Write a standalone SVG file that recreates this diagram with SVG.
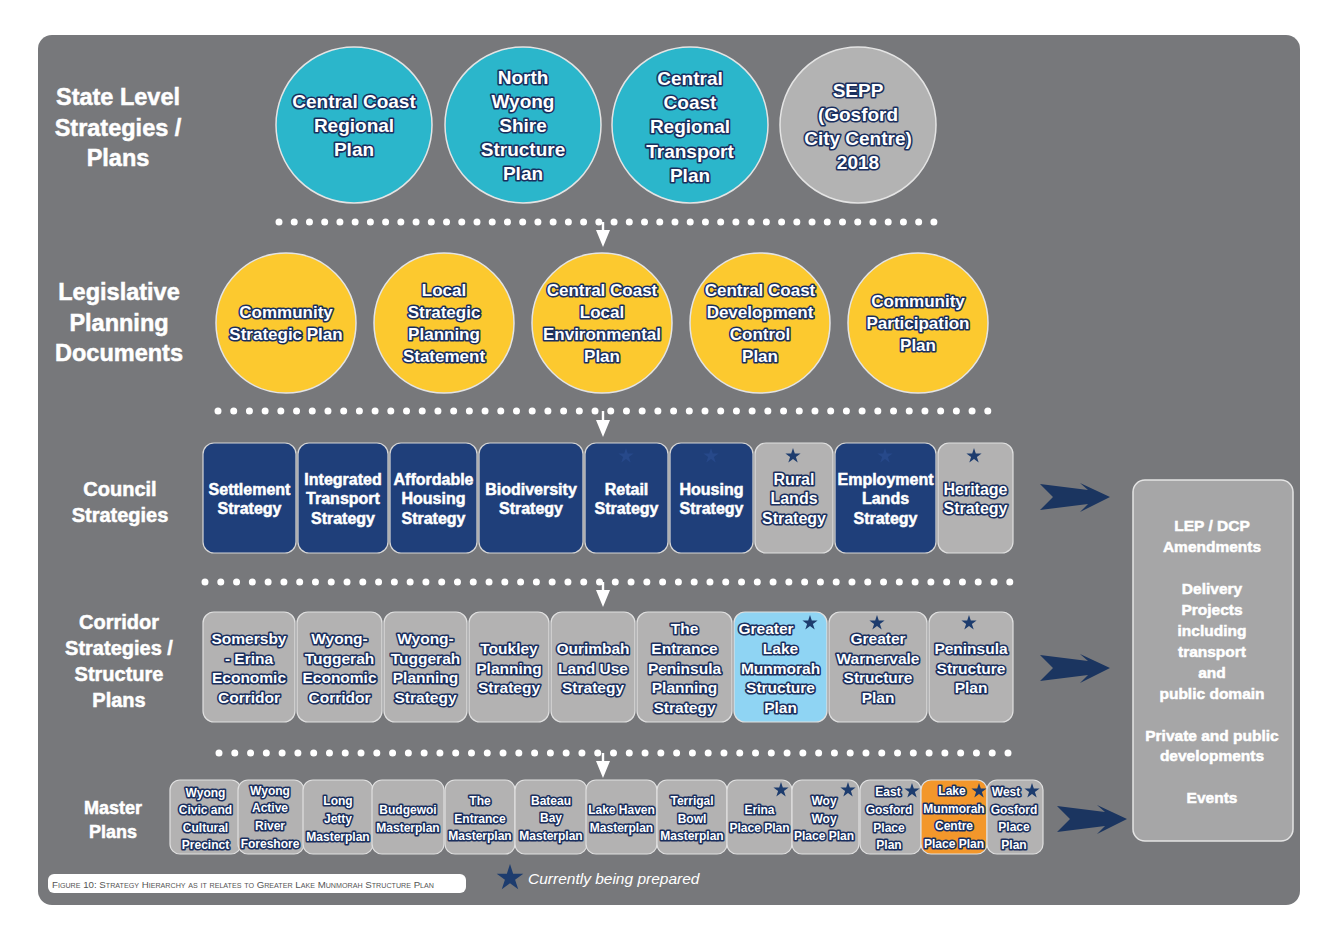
<svg xmlns="http://www.w3.org/2000/svg" xmlns:xlink="http://www.w3.org/1999/xlink" width="1339" height="947" viewBox="0 0 1339 947">
<style>
.t{font-family:"Liberation Sans",Arial,sans-serif;font-weight:bold;text-anchor:middle}
.ol{fill:#fff;stroke:#1a2f5e;stroke-width:3.2;paint-order:stroke fill;stroke-linejoin:round}
.wh{fill:#fff;stroke:#fff;stroke-width:0.5}
.lab{font-size:23.5px}
.c1{font-size:19px}
.c2{font-size:17px}
.r3{font-size:16px}
.r4{font-size:15.5px}
.r5{font-size:12px}
.rb{font-size:15.5px}
.teal{fill:#2bb6cb;stroke:#e4e4e4;stroke-width:1.5}
.yel{fill:#fcc92f;stroke:#e4e4e4;stroke-width:1.5}
.gcir{fill:#b3b3b3;stroke:#e4e4e4;stroke-width:1.5}
.bb{fill:#1f3f7a;stroke:#d6d6d6;stroke-width:1.2}
.gb{fill:#b3b2b2;stroke:#e0e0e0;stroke-width:1.2}
.lb{fill:#8fd4f3;stroke:#e0e0e0;stroke-width:1.2}
.ob{fill:#f3972b;stroke:#e0e0e0;stroke-width:1.2}
.dots{stroke:#fff;stroke-width:7;stroke-linecap:round;fill:none}
.star{fill:#1d3c6e}
.fstar{fill:#27498a}
.down{fill:#fff}
.big{fill:#1b3560}
</style>
<defs>
<path id="st" d="M0,-8 L1.8,-2.47 L7.61,-2.47 L2.91,0.95 L4.7,6.47 L0,3.06 L-4.7,6.47 L-2.91,0.95 L-7.61,-2.47 L-1.8,-2.47 Z"/>
<path id="ar" d="M0,-13 L48,-7 L40,-14 L70,0 L40,15 L48,7 L0,13 L13,0 Z"/>
</defs>
<rect x="0" y="0" width="1339" height="947" fill="#fff"/>
<rect id="panel" x="38" y="35" width="1262" height="870" rx="14" fill="#77787b"/>

<g id="row-labels" class="t wh">
<text class="lab" x="118" y="104.5">State Level</text>
<text class="lab" x="118" y="135.5">Strategies /</text>
<text class="lab" x="118" y="165.5">Plans</text>
<text class="lab" x="119" y="299.5">Legislative</text>
<text class="lab" x="119" y="330.5">Planning</text>
<text class="lab" x="119" y="360.5">Documents</text>
<text x="120" y="496" font-size="20">Council</text>
<text x="120" y="522" font-size="20">Strategies</text>
<text x="119" y="629" font-size="20">Corridor</text>
<text x="119" y="655" font-size="20">Strategies /</text>
<text x="119" y="681" font-size="20">Structure</text>
<text x="119" y="707" font-size="20">Plans</text>
<text x="113" y="813.5" font-size="18">Master</text>
<text x="113" y="837.5" font-size="18">Plans</text>
</g>

<!-- Row 1 -->
<g id="ccrp"><circle class="teal" cx="354" cy="125" r="78"/>
<text class="t ol c1"><tspan x="354" y="108">Central Coast</tspan><tspan x="354" y="132">Regional</tspan><tspan x="354" y="156">Plan</tspan></text></g>
<g id="nwssp"><circle class="teal" cx="523" cy="125" r="78"/>
<text class="t ol c1"><tspan x="523" y="84">North</tspan><tspan x="523" y="108">Wyong</tspan><tspan x="523" y="132">Shire</tspan><tspan x="523" y="156">Structure</tspan><tspan x="523" y="180">Plan</tspan></text></g>
<g id="ccrtp"><circle class="teal" cx="690" cy="125" r="78"/>
<text class="t ol c1"><tspan x="690" y="85">Central</tspan><tspan x="690" y="109">Coast</tspan><tspan x="690" y="133">Regional</tspan><tspan x="690" y="158">Transport</tspan><tspan x="690" y="182">Plan</tspan></text></g>
<g id="sepp"><circle class="gcir" cx="858" cy="125" r="78"/>
<text class="t ol c1"><tspan x="858" y="97">SEPP</tspan><tspan x="858" y="121">(Gosford</tspan><tspan x="858" y="145">City Centre)</tspan><tspan x="858" y="169">2018</tspan></text></g>

<!-- Row 2 -->
<g id="csp"><circle class="yel" cx="286" cy="323" r="70"/>
<text class="t ol c2"><tspan x="286" y="318">Community</tspan><tspan x="286" y="340">Strategic Plan</tspan></text></g>
<g id="lsps"><circle class="yel" cx="444" cy="323" r="70"/>
<text class="t ol c2"><tspan x="444" y="296">Local</tspan><tspan x="444" y="318">Strategic</tspan><tspan x="444" y="340">Planning</tspan><tspan x="444" y="362">Statement</tspan></text></g>
<g id="lep"><circle class="yel" cx="602" cy="323" r="70"/>
<text class="t ol c2"><tspan x="602" y="296">Central Coast</tspan><tspan x="602" y="318">Local</tspan><tspan x="602" y="340">Environmental</tspan><tspan x="602" y="362">Plan</tspan></text></g>
<g id="dcp"><circle class="yel" cx="760" cy="323" r="70"/>
<text class="t ol c2"><tspan x="760" y="296">Central Coast</tspan><tspan x="760" y="318">Development</tspan><tspan x="760" y="340">Control</tspan><tspan x="760" y="362">Plan</tspan></text></g>
<g id="cpp"><circle class="yel" cx="918" cy="323" r="70"/>
<text class="t ol c2"><tspan x="918" y="307">Community</tspan><tspan x="918" y="329">Participation</tspan><tspan x="918" y="351">Plan</tspan></text></g>

<!-- Row 3 -->
<g id="settlement"><rect class="bb" x="203" y="443" width="93" height="110" rx="11"/>
<text class="t wh r3"><tspan x="249.5" y="495">Settlement</tspan><tspan x="249.5" y="514">Strategy</tspan></text></g>
<g id="its"><rect class="bb" x="298" y="443" width="90" height="110" rx="11"/>
<text class="t wh r3"><tspan x="343" y="485">Integrated</tspan><tspan x="343" y="504">Transport</tspan><tspan x="343" y="524">Strategy</tspan></text></g>
<g id="ahs"><rect class="bb" x="390" y="443" width="87" height="110" rx="11"/>
<text class="t wh r3"><tspan x="433.5" y="485">Affordable</tspan><tspan x="433.5" y="504">Housing</tspan><tspan x="433.5" y="524">Strategy</tspan></text></g>
<g id="bio"><rect class="bb" x="479" y="443" width="104" height="110" rx="11"/>
<text class="t wh r3"><tspan x="531" y="495">Biodiversity</tspan><tspan x="531" y="514">Strategy</tspan></text></g>
<g id="retail"><rect class="bb" x="585" y="443" width="83" height="110" rx="11"/>
<use href="#st" class="fstar" x="626" y="456"/>
<text class="t wh r3"><tspan x="626.5" y="495">Retail</tspan><tspan x="626.5" y="514">Strategy</tspan></text></g>
<g id="housing"><rect class="bb" x="670" y="443" width="83" height="110" rx="11"/>
<use href="#st" class="fstar" x="711" y="456"/>
<text class="t wh r3"><tspan x="711.5" y="495">Housing</tspan><tspan x="711.5" y="514">Strategy</tspan></text></g>
<g id="rural"><rect class="gb" x="755" y="443" width="78" height="110" rx="11"/>
<use href="#st" class="star" x="793" y="456"/>
<text class="t ol r3"><tspan x="794" y="485">Rural</tspan><tspan x="794" y="504">Lands</tspan><tspan x="794" y="524">Strategy</tspan></text></g>
<g id="employment"><rect class="bb" x="835" y="443" width="101" height="110" rx="11"/>
<use href="#st" class="fstar" x="885" y="456"/>
<text class="t wh r3"><tspan x="885.5" y="485">Employment</tspan><tspan x="885.5" y="504">Lands</tspan><tspan x="885.5" y="524">Strategy</tspan></text></g>
<g id="heritage"><rect class="gb" x="938" y="443" width="75" height="110" rx="11"/>
<use href="#st" class="star" x="974" y="456"/>
<text class="t ol r3"><tspan x="975.5" y="495">Heritage</tspan><tspan x="975.5" y="514">Strategy</tspan></text></g>

<!-- Row 4 -->
<g id="somersby"><rect class="gb" x="203" y="612" width="92" height="110" rx="11"/>
<text class="t ol r4"><tspan x="249" y="644">Somersby</tspan><tspan x="249" y="664">- Erina</tspan><tspan x="249" y="683">Economic</tspan><tspan x="249" y="703">Corridor</tspan></text></g>
<g id="wtec"><rect class="gb" x="297" y="612" width="85" height="110" rx="11"/>
<text class="t ol r4"><tspan x="339.5" y="644">Wyong-</tspan><tspan x="339.5" y="664">Tuggerah</tspan><tspan x="339.5" y="683">Economic</tspan><tspan x="339.5" y="703">Corridor</tspan></text></g>
<g id="wtps"><rect class="gb" x="384" y="612" width="83" height="110" rx="11"/>
<text class="t ol r4"><tspan x="425.5" y="644">Wyong-</tspan><tspan x="425.5" y="664">Tuggerah</tspan><tspan x="425.5" y="683">Planning</tspan><tspan x="425.5" y="703">Strategy</tspan></text></g>
<g id="toukley"><rect class="gb" x="469" y="612" width="80" height="110" rx="11"/>
<text class="t ol r4"><tspan x="509" y="654">Toukley</tspan><tspan x="509" y="674">Planning</tspan><tspan x="509" y="693">Strategy</tspan></text></g>
<g id="ourimbah"><rect class="gb" x="551" y="612" width="84" height="110" rx="11"/>
<text class="t ol r4"><tspan x="593" y="654">Ourimbah</tspan><tspan x="593" y="674">Land Use</tspan><tspan x="593" y="693">Strategy</tspan></text></g>
<g id="tepps"><rect class="gb" x="637" y="612" width="95" height="110" rx="11"/>
<text class="t ol r4"><tspan x="684.5" y="634">The</tspan><tspan x="684.5" y="654">Entrance</tspan><tspan x="684.5" y="674">Peninsula</tspan><tspan x="684.5" y="693">Planning</tspan><tspan x="684.5" y="713">Strategy</tspan></text></g>
<g id="glmsp"><rect class="lb" x="734" y="612" width="93" height="110" rx="11"/>
<use href="#st" class="star" x="810" y="623"/>
<text class="t ol r4"><tspan x="766" y="634">Greater</tspan><tspan x="780.5" y="654">Lake</tspan><tspan x="780.5" y="674">Munmorah</tspan><tspan x="780.5" y="693">Structure</tspan><tspan x="780.5" y="713">Plan</tspan></text></g>
<g id="gwsp"><rect class="gb" x="829" y="612" width="98" height="110" rx="11"/>
<use href="#st" class="star" x="877" y="623"/>
<text class="t ol r4"><tspan x="878" y="644">Greater</tspan><tspan x="878" y="664">Warnervale</tspan><tspan x="878" y="683">Structure</tspan><tspan x="878" y="703">Plan</tspan></text></g>
<g id="psp"><rect class="gb" x="929" y="612" width="84" height="110" rx="11"/>
<use href="#st" class="star" x="969" y="623"/>
<text class="t ol r4"><tspan x="971" y="654">Peninsula</tspan><tspan x="971" y="674">Structure</tspan><tspan x="971" y="693">Plan</tspan></text></g>

<!-- Row 5 -->
<g id="wccp"><rect class="gb" x="170" y="780" width="71" height="74" rx="10"/>
<text class="t ol r5"><tspan x="205.5" y="796.5">Wyong</tspan><tspan x="205.5" y="813.5">Civic and</tspan><tspan x="205.5" y="831.5">Cultural</tspan><tspan x="205.5" y="848.5">Precinct</tspan></text></g>
<g id="warf"><rect class="gb" x="238" y="780" width="66" height="74" rx="10"/>
<text class="t ol r5"><tspan x="270" y="794.5">Wyong</tspan><tspan x="270" y="811.5">Active</tspan><tspan x="270" y="829.5">River</tspan><tspan x="270" y="847.5">Foreshore</tspan></text></g>
<g id="ljm"><rect class="gb" x="303" y="780" width="70" height="74" rx="10"/>
<text class="t ol r5"><tspan x="338" y="804.5">Long</tspan><tspan x="338" y="822.5">Jetty</tspan><tspan x="338" y="840.5">Masterplan</tspan></text></g>
<g id="bm"><rect class="gb" x="372" y="780" width="72" height="74" rx="10"/>
<text class="t ol r5"><tspan x="408" y="813.5">Budgewoi</tspan><tspan x="408" y="831.5">Masterplan</tspan></text></g>
<g id="tem"><rect class="gb" x="445" y="780" width="70" height="74" rx="10"/>
<text class="t ol r5"><tspan x="480" y="804.5">The</tspan><tspan x="480" y="822.5">Entrance</tspan><tspan x="480" y="839.5">Masterplan</tspan></text></g>
<g id="bbm"><rect class="gb" x="515" y="780" width="72" height="74" rx="10"/>
<text class="t ol r5"><tspan x="551" y="804.5">Bateau</tspan><tspan x="551" y="821.5">Bay</tspan><tspan x="551" y="839.5">Masterplan</tspan></text></g>
<g id="lhm"><rect class="gb" x="586" y="780" width="71" height="74" rx="10"/>
<text class="t ol r5"><tspan x="621.5" y="813.5">Lake Haven</tspan><tspan x="621.5" y="831.5">Masterplan</tspan></text></g>
<g id="tbm"><rect class="gb" x="657" y="780" width="70" height="74" rx="10"/>
<text class="t ol r5"><tspan x="692" y="804.5">Terrigal</tspan><tspan x="692" y="822.5">Bowl</tspan><tspan x="692" y="839.5">Masterplan</tspan></text></g>
<g id="epp"><rect class="gb" x="727" y="780" width="65" height="74" rx="10"/>
<use href="#st" class="star" x="781" y="790"/>
<text class="t ol r5"><tspan x="759.5" y="813.5">Erina</tspan><tspan x="759.5" y="831.5">Place Plan</tspan></text></g>
<g id="wwpp"><rect class="gb" x="792" y="780" width="67" height="74" rx="10"/>
<use href="#st" class="star" x="848" y="790"/>
<text class="t ol r5"><tspan x="824" y="804.5">Woy</tspan><tspan x="824" y="822.5">Woy</tspan><tspan x="824" y="839.5">Place Plan</tspan></text></g>
<g id="egpp"><rect class="gb" x="860" y="780" width="61" height="74" rx="10"/>
<use href="#st" class="star" x="912" y="791"/>
<text class="t ol r5"><tspan x="888" y="795.5">East</tspan><tspan x="889" y="813.5">Gosford</tspan><tspan x="889" y="831.5">Place</tspan><tspan x="889" y="848.5">Plan</tspan></text></g>
<g id="lmcpp"><rect class="ob" x="921" y="780" width="66" height="74" rx="10"/>
<use href="#st" class="star" x="979" y="791"/>
<text class="t ol r5"><tspan x="952" y="794.5">Lake</tspan><tspan x="954" y="812.5">Munmorah</tspan><tspan x="954" y="829.5">Centre</tspan><tspan x="954" y="847.5">Place Plan</tspan></text></g>
<g id="wgpp"><rect class="gb" x="987" y="780" width="56" height="74" rx="10"/>
<use href="#st" class="star" x="1032" y="791"/>
<text class="t ol r5"><tspan x="1006" y="795.5">West</tspan><tspan x="1014" y="813.5">Gosford</tspan><tspan x="1014" y="830.5">Place</tspan><tspan x="1014" y="848.5">Plan</tspan></text></g>

<!-- Outcomes -->
<g id="outcomes"><rect x="1133" y="480" width="160" height="361" rx="12" fill="#a6a6a7" stroke="#e4e4e4" stroke-width="1.5"/>
<text class="t wh rb"><tspan x="1212" y="530.5">LEP / DCP</tspan><tspan x="1212" y="551.5">Amendments</tspan><tspan x="1212" y="593.5">Delivery</tspan><tspan x="1212" y="614.5">Projects</tspan><tspan x="1212" y="635.5">including</tspan><tspan x="1212" y="656.5">transport</tspan><tspan x="1212" y="677.5">and</tspan><tspan x="1212" y="698.5">public domain</tspan><tspan x="1212" y="740.5">Private and public</tspan><tspan x="1212" y="760.5">developments</tspan><tspan x="1212" y="802.5">Events</tspan></text></g>

<!-- Connectors -->
<g id="connectors">
<line class="dots" x1="279" y1="222" x2="934" y2="222" stroke-dasharray="0 15.23"/>
<line class="dots" x1="218" y1="411" x2="988" y2="411" stroke-dasharray="0 15.71"/>
<line class="dots" x1="205" y1="582" x2="1010" y2="582" stroke-dasharray="0 15.78"/>
<line class="dots" x1="219" y1="753" x2="1008" y2="753" stroke-dasharray="0 15.78"/>
<path class="down" d="M601.8,222 L604.2,222 L604.2,230 L610,230 L603,247 L596,230 L601.8,230 Z"/>
<path class="down" d="M601.8,411 L604.2,411 L604.2,420 L610,420 L603,437 L596,420 L601.8,420 Z"/>
<path class="down" d="M601.8,582 L604.2,582 L604.2,590 L610,590 L603,607 L596,590 L601.8,590 Z"/>
<path class="down" d="M601.8,753 L604.2,753 L604.2,761 L610,761 L603,778 L596,761 L601.8,761 Z"/>
<use href="#ar" class="big" x="1040" y="497"/>
<use href="#ar" class="big" x="1040" y="668"/>
<use href="#ar" class="big" x="1057" y="819"/>
</g>

<!-- Caption & legend -->
<g id="caption"><rect x="48" y="874" width="418" height="19" rx="6" fill="#fff"/>
<text x="52" y="888" font-family="Liberation Sans, Arial, sans-serif" font-size="9.5" fill="#555" font-variant="small-caps" textLength="382" lengthAdjust="spacingAndGlyphs">Figure 10: Strategy Hierarchy as it relates to Greater Lake Munmorah Structure Plan</text></g>
<g id="legend"><use href="#st" class="star" transform="translate(510,878) scale(1.75)"/>
<text x="528" y="884" font-family="Liberation Sans, Arial, sans-serif" font-style="italic" font-size="15.5" fill="#fff">Currently being prepared</text></g>
</svg>
